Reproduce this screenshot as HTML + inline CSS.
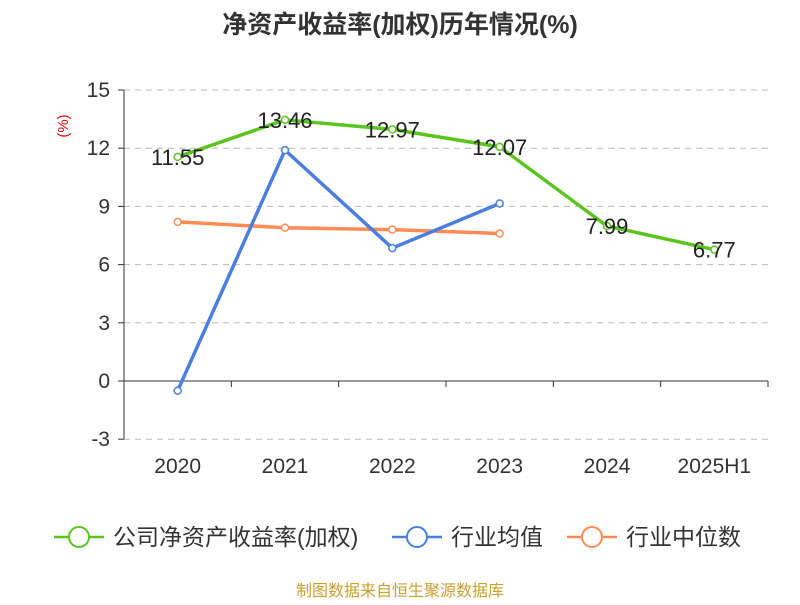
<!DOCTYPE html>
<html><head><meta charset="utf-8"><style>
body{margin:0;background:#fff;font-family:"Liberation Sans","Noto Sans CJK SC",sans-serif}
svg text{font-family:"Liberation Sans","Noto Sans CJK SC",sans-serif}
</style></head><body>
<svg id="c" width="800" height="600">
<text x="400" y="33" text-anchor="middle" font-size="25" font-weight="bold" fill="#333">净资产收益率(加权)历年情况(%)</text>
<text x="0" y="0" transform="translate(68,126) rotate(-90)" text-anchor="middle" font-size="15" fill="#e00">(%)</text>
<g id="grid"></g><g id="axes"></g><g id="series"></g>
<g>
<g><line x1="54" y1="537" x2="104" y2="537" stroke="#5cc41e" stroke-width="2.5"/><circle cx="79" cy="537" r="10" fill="#fff" stroke="#5cc41e" stroke-width="2"/><text x="113" y="545" font-size="23" fill="#333">公司净资产收益率(加权)</text></g>
<g><line x1="392" y1="537" x2="442" y2="537" stroke="#4a7fe0" stroke-width="2.5"/><circle cx="417" cy="537" r="10" fill="#fff" stroke="#4a7fe0" stroke-width="2"/><text x="451" y="545" font-size="23" fill="#333">行业均值</text></g>
<g><line x1="567" y1="537" x2="617" y2="537" stroke="#ff8c55" stroke-width="2.5"/><circle cx="592" cy="537" r="10" fill="#fff" stroke="#ff8c55" stroke-width="2"/><text x="626" y="545" font-size="23" fill="#333">行业中位数</text></g>
</g>
<text x="400" y="596" text-anchor="middle" font-size="16" fill="#c9a030">制图数据来自恒生聚源数据库</text>
</svg>
<script>
const categories=["2020","2021","2022","2023","2024","2025H1"];
const companyRoe=[11.55,13.46,12.97,12.07,7.99,6.77];
const industryAvg=[-0.5,11.9,6.85,9.15];
const industryMedian=[8.2,7.9,7.8,7.6];
const yTicks=[-3,0,3,6,9,12,15];
const NS="http://www.w3.org/2000/svg";
const x0=124,x1=768,band=(x1-x0)/categories.length;
const X=i=>x0+band*(i+0.5);
const Y=v=>381-(v)*(291/15);
function mk(p,t,a){const e=document.createElementNS(NS,t);for(const k in a)e.setAttribute(k,a[k]);p.appendChild(e);return e;}
const grid=document.getElementById('grid'),axes=document.getElementById('axes'),ser=document.getElementById('series');
yTicks.forEach(v=>{
 if(v!==0){const l=mk(grid,'line',{x1:x0,x2:x1,y1:Y(v),y2:Y(v),stroke:'#bbb','stroke-dasharray':'6,5'});
 
 }
 const tk=mk(axes,'line',{x1:x0-6,x2:x0,y1:Y(v),y2:Y(v),stroke:'#333'});
 
 
 const t=mk(axes,'text',{x:x0-14,y:Y(v)+7,'text-anchor':'end','font-size':21,fill:'#333'});t.textContent=v;
 
 
});
const ya=mk(axes,'line',{x1:x0,x2:x0,y1:Y(15),y2:Y(-3),stroke:'#333'});


const xa=mk(axes,'line',{x1:x0,x2:x1,y1:Y(0),y2:Y(0),stroke:'#333'});


for(let i=0;i<=categories.length;i++){const tk=mk(axes,'line',{x1:x0+band*i,x2:x0+band*i,y1:Y(0),y2:Y(0)+6,stroke:'#333'});
 
 }
categories.forEach((c,i)=>{const t=mk(axes,'text',{x:X(i),y:473,'text-anchor':'middle','font-size':21,fill:'#333'});t.textContent=c;
 
 });
function series(vals,color,name,labels){
 const g=mk(ser,'g',{});
 
 
 mk(g,'polyline',{points:vals.map((v,i)=>X(i)+','+Y(v)).join(' '),fill:'none',stroke:color,'stroke-width':3.5});
 vals.forEach((v,i)=>{const c=mk(g,'circle',{cx:X(i),cy:Y(v),r:3.5,fill:'#fff',stroke:color,'stroke-width':1.5});
  
  
  if(labels){const t=mk(g,'text',{x:X(i),y:Y(v)+8,'text-anchor':'middle','font-size':22,fill:'#222'});t.textContent=v.toFixed(2);
  
  }});
}
series(industryMedian,'#ff8c55','industry-median-line',false);
series(industryAvg,'#4a7fe0','industry-avg-line',false);
series(companyRoe,'#5cc41e','company-roe-line',true);
</script>
</body></html>
